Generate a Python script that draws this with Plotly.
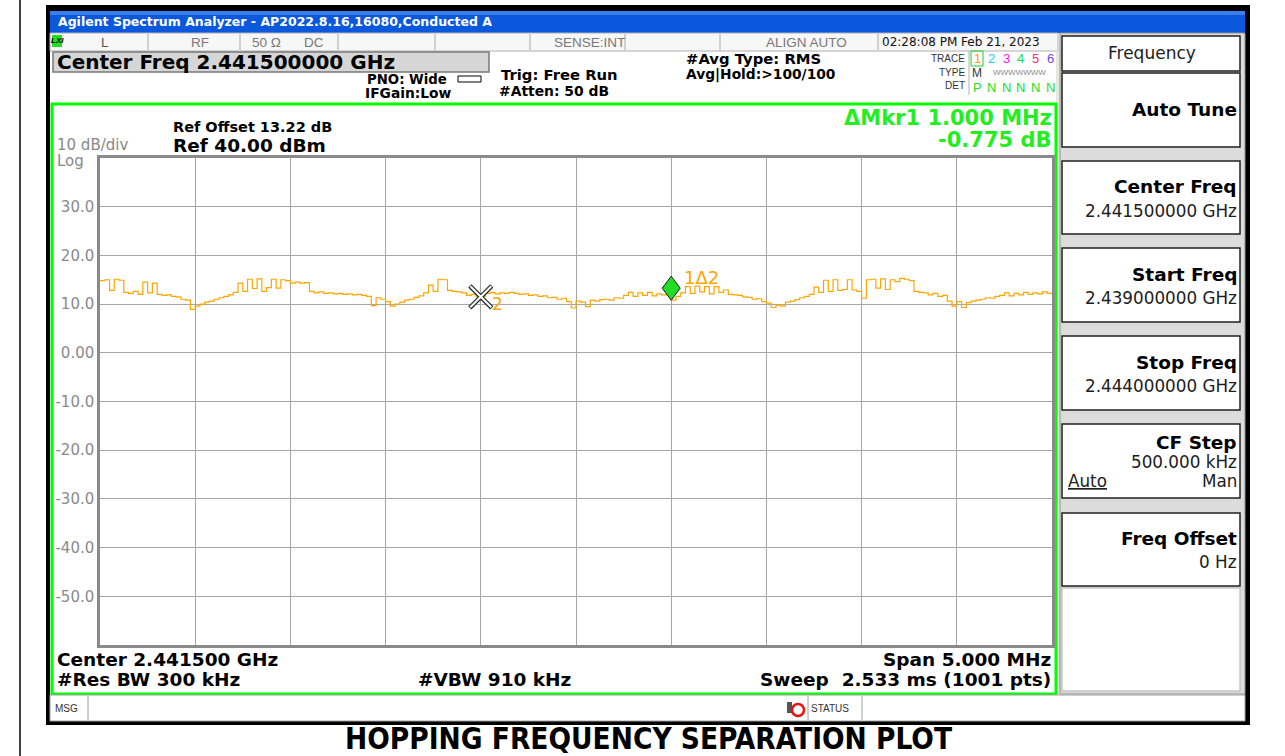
import plotly.graph_objects as go

W, H = 1285, 756

# ---------------- data ----------------
f_start_ghz = 2.439
f_stop_ghz = 2.444
level_dbm = [
    14.8, 15.0, 12.8, 15.1, 14.9, 12.4, 12.2, 12.6, 12.0, 14.5,
    12.3, 14.3, 12.0, 11.8, 11.9, 11.6, 11.5, 11.0, 10.8, 8.9,
    9.6, 10.0, 10.4, 10.6, 11.0, 11.3, 11.6, 11.9, 12.4, 14.3,
    12.6, 15.1, 13.2, 15.2, 12.6, 13.4, 15.1, 13.3, 15.0, 14.8,
    14.3, 14.5, 14.3, 14.4, 12.6, 12.3, 12.5, 12.2, 12.3, 12.1,
    12.2, 12.0, 12.1, 11.9, 12.0, 11.8, 11.6, 9.7, 11.3, 11.0,
    10.5, 9.6, 10.0, 10.4, 10.8, 11.0, 11.4, 11.7, 12.3, 13.9,
    12.6, 15.1, 15.0, 12.8, 12.6, 12.5, 12.3, 11.8, 12.0, 11.6,
    11.6, 12.2, 12.4, 12.1, 12.3, 12.2, 12.4, 12.2, 12.0, 12.1,
    11.8, 11.9, 11.6, 11.7, 11.3, 11.4, 11.0, 11.2, 10.5, 9.2,
    10.6, 10.4, 9.5, 10.8, 10.6, 10.9, 11.0, 10.8, 11.3, 11.2,
    11.8, 12.4, 11.6, 12.3, 11.8, 12.4, 11.7, 12.1, 11.9, 12.2,
    10.8, 11.6, 12.3, 13.6, 12.2, 13.7, 12.5, 13.6, 12.1, 13.6,
    12.4, 12.9, 12.0, 11.9, 11.8, 11.5, 11.4, 11.0, 11.1, 10.5,
    10.2, 9.3, 9.8, 9.6, 10.4, 10.6, 10.9, 11.3, 11.6, 12.0,
    13.5, 12.4, 14.9, 12.6, 15.0, 12.8, 13.0, 15.0, 12.9, 12.6,
    11.2, 15.0, 15.1, 13.3, 15.2, 13.0, 15.0, 14.6, 15.3, 15.1,
    14.8, 12.6, 12.4, 12.3, 11.9, 12.2, 11.6, 11.8, 10.6, 9.6,
    10.5, 9.3, 10.3, 10.6, 10.8, 11.0, 11.3, 11.2, 11.6, 11.8,
    12.3, 11.7, 12.2, 11.9, 12.4, 12.0, 12.3, 12.1, 12.5, 12.2,
    12.4,
]
mkr2_freq_ghz = 2.441
mkr2_level_dbm = 11.5
mkr1_freq_ghz = 2.442
mkr1_level_dbm = 10.8

ytick_vals = [30, 20, 10, 0, -10, -20, -30, -40, -50]
ytick_text = ["30.0", "20.0", "10.0", "0.00", "-10.0", "-20.0", "-30.0", "-40.0", "-50.0"]

n_pts = len(level_dbm)
freqs = [f_start_ghz + (f_stop_ghz - f_start_ghz) * i / (n_pts - 1) for i in range(n_pts)]

# ---------------- layout helpers ----------------
def X(px):
    return px / W


def Y(py):
    return 1 - py / H


shapes = []
annotations = []


def rect(x0, y0, x1, y1, fill=None, line=None, lw=1, layer="below"):
    shapes.append(dict(type="rect", xref="paper", yref="paper",
                       x0=X(x0), x1=X(x1), y0=Y(y1), y1=Y(y0),
                       fillcolor=fill if fill else "rgba(0,0,0,0)",
                       line=dict(color=line if line else "rgba(0,0,0,0)", width=lw if line else 0),
                       layer=layer))


def vline(x, y0, y1, color, lw=1, layer="below"):
    shapes.append(dict(type="line", xref="paper", yref="paper",
                       x0=X(x), x1=X(x), y0=Y(y0), y1=Y(y1),
                       line=dict(color=color, width=lw), layer=layer))


SANS = "DejaVu Sans"
ARIAL = "Liberation Sans"


def T(x, y, s, size, color="#000000", bold=False, anchor="left", family=SANS):
    annotations.append(dict(x=X(x), y=Y(y), xref="paper", yref="paper",
                            text=f"<b>{s}</b>" if bold else s, showarrow=False,
                            xanchor=anchor, yanchor="middle", borderpad=0,
                            font=dict(size=size, color=color, family=family)))


# ---------------- page / instrument frame ----------------
vline(20, 0, 756, "#000000", 1.5)
rect(46, 5, 1250, 725, fill="#000000")
rect(50, 11, 1245, 721, fill="#ffffff")
# title bar
rect(50, 11, 1245, 33, fill="#0b58dc")
rect(50, 11, 1245, 15, fill="#3d7df0")
T(57, 22, "Agilent Spectrum Analyzer - AP2022.8.16,16080,Conducted A", 12.5, "#ffffff", True, family=SANS)

# status row
rect(50, 33, 1058, 51, fill="#f7f7f7", line="#b0b0b0", lw=1)
for sx in [148, 240, 338, 435, 530, 625, 720, 878]:
    vline(sx, 34, 50, "#a8a8a8", 1)
rect(52, 35, 62, 47, fill="#22dd22")
T(57, 41, "<i>LXI</i>", 8, "#000000", True, anchor="center", family=ARIAL)
T(100, 42, "L", 13.5, "#555555", family=ARIAL)
T(190, 42, "RF", 13.5, "#777777", family=ARIAL)
T(251, 42, "50 Ω", 13.5, "#777777", family=ARIAL)
T(303, 42, "DC", 13.5, "#777777", family=ARIAL)
T(553, 42, "SENSE:INT", 13.5, "#777777", family=ARIAL)
T(765, 42, "ALIGN AUTO", 13.5, "#777777", family=ARIAL)
T(881, 42, "02:28:08 PM Feb 21, 2023", 12, "#111111", family=SANS)

# header info
rect(53, 52, 489, 72, fill="#d6d6d6", line="#7a7a7a", lw=1.5)
T(56, 62, "Center Freq 2.441500000 GHz", 20, "#000000", True)
T(366, 79, "PNO: Wide", 13.3, "#000000", True)
shapes.append(dict(type="path", xref="paper", yref="paper",
                   path=f"M {X(458)} {Y(76)} L {X(481)} {Y(76)} L {X(481)} {Y(82)} L {X(458)} {Y(82)} Z",
                   line=dict(color="#000000", width=1), fillcolor="rgba(0,0,0,0)"))
T(364, 93, "IFGain:Low", 13.8, "#000000", True)
T(500, 74, "Trig: Free Run", 14.8, "#000000", True)
T(498, 91, "#Atten: 50 dB", 13.9, "#000000", True)
T(685, 58, "#Avg Type: RMS", 14.8, "#000000", True)
T(685, 74, "Avg|Hold:&gt;100/100", 13.8, "#000000", True)

# trace box
T(966, 58, "TRACE", 10, "#333333", anchor="right", family=ARIAL)
T(966, 72, "TYPE", 10, "#333333", anchor="right", family=ARIAL)
T(966, 86, "DET", 10, "#333333", anchor="right", family=ARIAL)
vline(969, 51, 95, "#b0b0b0", 1)
rect(971, 51, 983, 66, line="#22cc22", lw=1)
trace_cols = ["#ff9900", "#22ccee", "#ee22ee", "#22dd44", "#ff3366", "#7744ee"]
for k, c in enumerate(trace_cols):
    T(977 + k * 14.6, 59, str(k + 1), 13, c, anchor="center", family=ARIAL)
T(977, 73, "M", 12, "#333333", anchor="center", family=ARIAL)
T(1019, 73, "WWWWWWW", 8, "#888888", anchor="center", family=ARIAL)
T(977, 87, "P", 13, "#22dd22", anchor="center", family=ARIAL)
for k in range(1, 6):
    T(977 + k * 14.6, 87, "N", 13, "#22dd22", anchor="center", family=ARIAL)

# green measurement frame
rect(1056, 51, 1060, 694, fill="#e8e8e0")
rect(52, 104, 1056, 694, line="#00ff00", lw=3)

# text around graticule
T(172, 127, "Ref Offset 13.22 dB", 14.5, "#000000", True)
T(172, 145, "Ref 40.00 dBm", 18.5, "#000000", True)
T(56, 144.5, "10 dB/div", 15, "#888888")
T(56, 160.5, "Log", 15, "#888888")
T(1053, 118, "ΔMkr1 1.000 MHz", 21, "#22ee22", True, anchor="right")
T(1053, 140, "-0.775 dB", 21, "#22ee22", True, anchor="right")
T(56, 659, "Center 2.441500 GHz", 18.5, "#000000", True)
T(56, 679, "#Res BW 300 kHz", 18.5, "#000000", True)
T(417, 679, "#VBW 910 kHz", 18.5, "#000000", True)
T(1052, 659, "Span 5.000 MHz", 18.5, "#000000", True, anchor="right")
T(1052, 679, "Sweep  2.533 ms (1001 pts)", 18.5, "#000000", True, anchor="right")

# right soft-key panel
rect(1060, 33, 1245, 694, fill="#dcdcdc", line="#909090", lw=1)
rect(1062, 36, 1240, 71, fill="#ffffff", line="#202020", lw=1.5)
T(1152, 53, "Frequency", 17, "#202020", anchor="center")
buttons = [(73, 147), (161, 234), (248, 322), (336, 410), (424, 498), (513, 586)]
for (b0, b1) in buttons:
    rect(1062, b0, 1240, b1, fill="#ffffff", line="#202020", lw=1.5)
rect(1062, 588, 1240, 691, fill="#ffffff", line="#b0b0b0", lw=1)
T(1238, 110, "Auto Tune", 18.5, "#000000", True, anchor="right")
T(1238, 186, "Center Freq", 18.5, "#000000", True, anchor="right")
T(1238, 211, "2.441500000 GHz", 16.8, "#202020", anchor="right")
T(1238, 274, "Start Freq", 18.5, "#000000", True, anchor="right")
T(1238, 298, "2.439000000 GHz", 16.8, "#202020", anchor="right")
T(1238, 362, "Stop Freq", 18.5, "#000000", True, anchor="right")
T(1238, 386, "2.444000000 GHz", 16.8, "#202020", anchor="right")
T(1238, 443, "CF Step", 18.5, "#000000", True, anchor="right")
T(1238, 462, "500.000 kHz", 16.8, "#202020", anchor="right")
T(1067, 481, "<u>Auto</u>", 16.8, "#202020")
T(1238, 481, "Man", 16.8, "#202020", anchor="right")
T(1238, 538, "Freq Offset", 18.5, "#000000", True, anchor="right")
T(1238, 562, "0 Hz", 16.8, "#202020", anchor="right")

# message bar
rect(50, 695, 1245, 721, fill="#ffffff", line="#a0a0a0", lw=1)
vline(88, 696, 720, "#a0a0a0", 1)
vline(808, 696, 720, "#a0a0a0", 1)
vline(862, 696, 720, "#a0a0a0", 1)
T(54, 708, "MSG", 10, "#333333", family=ARIAL)
rect(787, 702, 792, 713, fill="#555555")
shapes.append(dict(type="circle", xref="paper", yref="paper",
                   x0=X(792), x1=X(804), y0=Y(716), y1=Y(704),
                   line=dict(color="#ee1111", width=2.5), fillcolor="rgba(0,0,0,0)"))
T(810, 708, "STATUS", 10, "#333333", family=ARIAL)

# page caption
T(648, 738.5, "HOPPING FREQUENCY SEPARATION PLOT", 29.5, "#000000", True, anchor="center",
  family="Liberation Sans Narrow, DejaVu Sans Condensed, Arial Narrow")

# ---------------- traces ----------------
fig = go.Figure()
fig.add_trace(go.Scatter(x=freqs, y=level_dbm, mode="lines",
                         line=dict(color="#ffa500", width=1.2, shape="hv"),
                         hoverinfo="skip", showlegend=False))

# marker 2 (reference, X glyph)
fig.add_trace(go.Scatter(x=[mkr2_freq_ghz], y=[mkr2_level_dbm], mode="markers",
                         marker=dict(symbol="x-thin", size=22, color="#2a2a2a",
                                     line=dict(color="#2a2a2a", width=4.5)),
                         hoverinfo="skip", showlegend=False))
fig.add_trace(go.Scatter(x=[mkr2_freq_ghz], y=[mkr2_level_dbm], mode="markers",
                         marker=dict(symbol="x-thin", size=21, color="#ffffff",
                                     line=dict(color="#ffffff", width=2)),
                         hoverinfo="skip", showlegend=False))
annotations.append(dict(x=mkr2_freq_ghz, y=mkr2_level_dbm, xref="x", yref="y", text="2",
                        showarrow=False, xanchor="left", yanchor="middle", xshift=9, yshift=-7,
                        font=dict(size=17, color="#ffa500", family=SANS)))

# marker 1 (delta, green diamond sitting with its lower tip on the trace)
shapes.append(dict(type="path", xref="x", yref="y", xsizemode="pixel", ysizemode="pixel",
                   xanchor=mkr1_freq_ghz, yanchor=mkr1_level_dbm,
                   path="M 0 0 L 9 12 L 0 24 L -9 12 Z",
                   fillcolor="#22dd22", line=dict(color="#1a1a1a", width=1), layer="above"))
annotations.append(dict(x=mkr1_freq_ghz, y=mkr1_level_dbm, xref="x", yref="y", text="1Δ2",
                        showarrow=False, xanchor="left", yanchor="middle", xshift=11, yshift=23,
                        font=dict(size=18, color="#ffa500", family=SANS)))

fig.update_layout(
    width=W, height=H,
    margin=dict(l=0, r=0, t=0, b=0),
    paper_bgcolor="#ffffff",
    plot_bgcolor="#ffffff",
    shapes=shapes,
    annotations=annotations,
    showlegend=False,
    xaxis=dict(domain=[X(100), X(1052)], range=[f_start_ghz, f_stop_ghz],
               tick0=f_start_ghz, dtick=(f_stop_ghz - f_start_ghz) / 10,
               showticklabels=False, ticks="", showgrid=True, gridcolor="#a6a6a6", gridwidth=1,
               zeroline=False, showline=True, mirror=True, linecolor="#8a8a8a", linewidth=2.5,
               fixedrange=True),
    yaxis=dict(domain=[Y(645), Y(158)], range=[-60, 40],
               tickvals=ytick_vals, ticktext=ytick_text,
               tickfont=dict(size=15, color="#8a8a8a", family=SANS), ticks="",
               showgrid=True, gridcolor="#a6a6a6", gridwidth=1,
               zeroline=False, showline=True, mirror=True, linecolor="#8a8a8a", linewidth=2.5,
               fixedrange=True),
)

fig.write_html("out.html", config={"displayModeBar": False},
               post_script="document.body.style.margin='0px';")
